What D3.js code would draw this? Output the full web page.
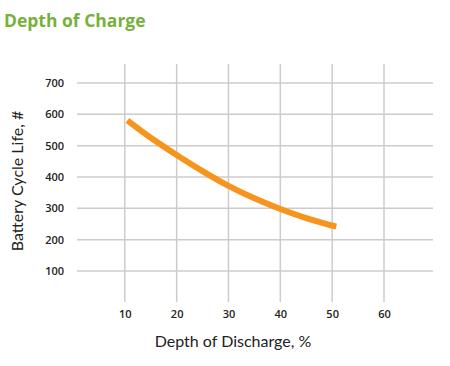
<!DOCTYPE html>
<html><head><meta charset="utf-8">
<script src="https://cdn.jsdelivr.net/npm/d3@7"></script>
<style>body{margin:0;background:#fff;}svg{display:block;}</style>
</head><body>
<script>
const title = "Depth of Charge";
const xTitle = "Depth of Discharge, %";
const yTitle = "Battery Cycle Life, #";
const xTicks = [10, 20, 30, 40, 50, 60];
const yTicks = [100, 200, 300, 400, 500, 600, 700];
const dod = [10.5, 15, 20, 25, 30, 35, 40, 45, 50, 50.8];
const cycles = [581, 524, 470, 418, 370, 331, 297, 268, 245, 242];

const W = 450, H = 366;
const svg = d3.select("body").append("svg").attr("width", W).attr("height", H);

const x = d3.scaleLinear().domain([10, 60]).range([124.8, 384]);
const y = d3.scaleLinear().domain([100, 700]).range([271, 83]);

const gridLeft = 77, gridRight = 433, gridTop = 64, gridBottom = 302;

svg.append("text").attr("x", 4).attr("y", 27)
  .attr("font-family", "Open Sans").attr("font-weight", 700).attr("font-size", 17.5)
  .attr("fill", "#78b03c").text(title);

// grid
svg.append("g").selectAll("line").data(yTicks).join("line")
  .attr("x1", gridLeft).attr("x2", gridRight)
  .attr("y1", d => y(d)).attr("y2", d => y(d))
  .attr("stroke", "#cccccc").attr("stroke-width", 1.5);
svg.append("g").selectAll("line").data(xTicks).join("line")
  .attr("y1", gridTop).attr("y2", gridBottom)
  .attr("x1", d => x(d)).attr("x2", d => x(d))
  .attr("stroke", "#cccccc").attr("stroke-width", 1.5);

// axes labels via d3 axes
const yAxis = svg.append("g").attr("transform", `translate(${gridLeft},0)`)
  .call(d3.axisLeft(y).tickValues(yTicks).tickSize(0).tickPadding(13));
const xAxis = svg.append("g").attr("transform", `translate(0,${gridBottom})`)
  .call(d3.axisBottom(x).tickValues(xTicks).tickSize(0).tickPadding(8));
[yAxis, xAxis].forEach(a => {
  a.select(".domain").remove();
  a.selectAll("text").attr("font-family", "Open Sans").attr("font-weight", 600)
    .attr("font-size", 11).attr("fill", "#222");
});

svg.append("text").attr("transform", "translate(23,181) rotate(-90)")
  .attr("text-anchor", "middle").attr("font-family", "Lato").attr("font-size", 16)
  .attr("fill", "#222").text(yTitle);
svg.append("text").attr("x", 233).attr("y", 347)
  .attr("text-anchor", "middle").attr("font-family", "Lato").attr("font-size", 16)
  .attr("fill", "#222").text(xTitle);

const pts = dod.map((d, i) => [d, cycles[i]]);
svg.append("path").datum(pts)
  .attr("d", d3.line().x(d => x(d[0])).y(d => y(d[1])).curve(d3.curveBasis))
  .attr("fill", "none").attr("stroke", "#f7941d").attr("stroke-width", 6);
</script>
</body></html>
